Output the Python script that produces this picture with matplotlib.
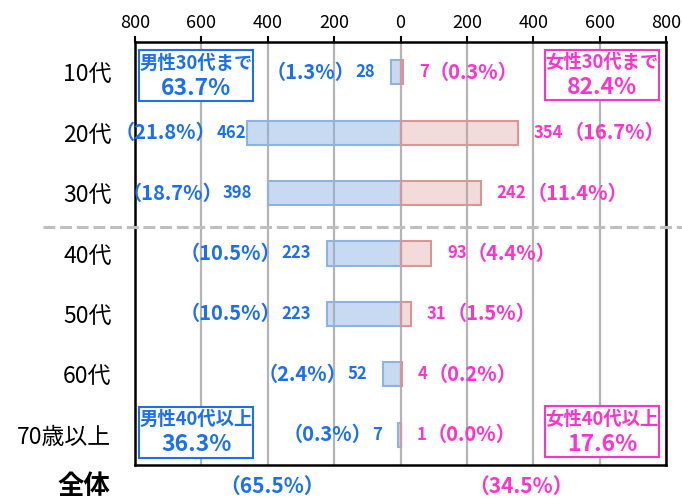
import matplotlib
matplotlib.use('Agg')
import matplotlib.pyplot as plt
from matplotlib.colors import to_rgba
from matplotlib.lines import Line2D
from matplotlib.patches import Rectangle

plt.rcParams['font.family'] = ['Noto Sans CJK JP', 'DejaVu Sans']
plt.rcParams['lines.scale_dashes'] = False

blue_text = '#1a6ff5'
pink_text = '#ff33cc'
blue_bar = '#8db3e2'
pink_bar = '#d99694'

ages = ['10代', '20代', '30代', '40代', '50代', '60代', '70歳以上']
male = [28, 462, 398, 223, 223, 52, 7]
female = [7, 354, 242, 93, 31, 4, 1]
male_pct = ['1.3', '21.8', '18.7', '10.5', '10.5', '2.4', '0.3']
female_pct = ['0.3', '16.7', '11.4', '4.4', '1.5', '0.2', '0.0']
male_total = '65.5'
female_total = '34.5'
box_labels = [('男性30代まで', '63.7%'), ('女性30代まで', '82.4%'),
              ('男性40代以上', '36.3%'), ('女性40代以上', '17.6%')]
ticks = [-800, -600, -400, -200, 0, 200, 400, 600, 800]

fig = plt.figure(figsize=(6.82, 5.0), dpi=100)
ax = fig.add_axes([0.198, 0.07, 0.7786, 0.846])

y = list(range(len(ages)))
ax.barh(y, [-v for v in male], height=0.4, color=to_rgba(blue_bar, 0.48),
        edgecolor=blue_bar, linewidth=1.5, zorder=3)
ax.barh(y, female, height=0.4, color=to_rgba(pink_bar, 0.33),
        edgecolor=pink_bar, linewidth=1.5, zorder=3)

ax.set_xlim(-800, 800)
ax.set_ylim(len(ages) - 0.5, -0.5)
ax.set_xticks(ticks)
ax.set_xticklabels([str(abs(t)) for t in ticks], fontsize=13)
ax.xaxis.tick_top()
ax.tick_params(axis='x', length=4, width=1.5, pad=3, color='black')
ax.set_yticks(y)
ax.set_yticklabels(ages, fontsize=16.5)
ax.tick_params(axis='y', length=0, pad=17)
ax.grid(True, axis='x', color='#b4b4b4', linewidth=1.6, zorder=1)
ax.set_axisbelow(True)
for s in ax.spines.values():
    s.set_linewidth(1.8)
    s.set_color('black')

# value and share labels
for i in y:
    gap = 1 if male[i] > 440 else 16
    t = ax.annotate(str(male[i]), xy=(-male[i], i), xytext=(-gap, 0),
                    textcoords='offset pixels', ha='right', va='center',
                    fontsize=12, fontweight='bold', color=blue_text)
    ax.annotate('（' + male_pct[i] + '%）', xy=(0, 0.5), xycoords=t,
                xytext=(0, 0), textcoords='offset pixels', ha='right', va='center',
                fontsize=14.5, fontweight='bold', color=blue_text)
    t = ax.annotate(str(female[i]), xy=(female[i], i), xytext=(16, 0),
                    textcoords='offset pixels', ha='left', va='center',
                    fontsize=12, fontweight='bold', color=pink_text)
    ax.annotate('（' + female_pct[i] + '%）', xy=(1, 0.5), xycoords=t,
                xytext=(0, 0), textcoords='offset pixels', ha='left', va='center',
                fontsize=14.5, fontweight='bold', color=pink_text)

# summary boxes
box_pos = [(0.0075, 0.860, blue_text), (0.772, 0.862, pink_text),
           (0.0075, 0.0165, blue_text), (0.772, 0.0185, pink_text)]
for (head, val), (bx, by, col) in zip(box_labels, box_pos):
    ax.add_patch(Rectangle((bx, by), 0.215, 0.12, transform=ax.transAxes,
                           fill=True, facecolor='white', edgecolor=col,
                           linewidth=1.5, zorder=4))
    cx = bx + 0.1075
    ax.text(cx, by + 0.09, head, transform=ax.transAxes, ha='center', va='center',
            fontsize=13.2, fontweight='bold', color=col, zorder=5)
    ax.text(cx, by + 0.031, val, transform=ax.transAxes, ha='center', va='center',
            fontsize=16.5, fontweight='bold', color=col, zorder=5)

# totals row
tr = ax.get_xaxis_transform()
ax.text(-386, -0.05, '（' + male_total + '%）', transform=tr, ha='center', va='center',
        fontsize=15, fontweight='bold', color=blue_text, clip_on=False)
ax.text(363, -0.05, '（' + female_total + '%）', transform=tr, ha='center', va='center',
        fontsize=15, fontweight='bold', color=pink_text, clip_on=False)
fig.text(110 / 682, 1 - 487 / 500, '全体', ha='right', va='center',
         fontsize=19, fontweight='bold', color='black')

# separator between 30s and 40s
fig.add_artist(Line2D([43 / 682, 1.0], [1 - 227 / 500, 1 - 227 / 500],
                      color='#bfbfbf', linewidth=2.2, dashes=(8.5, 3.5),
                      transform=fig.transFigure, zorder=6))

fig.savefig('out.png', dpi=100)
